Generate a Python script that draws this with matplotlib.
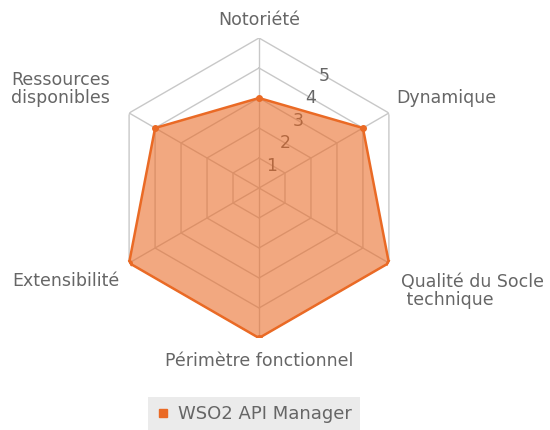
import numpy as np
import matplotlib
matplotlib.use("Agg")
import matplotlib.pyplot as plt
from matplotlib.lines import Line2D

categories = ["Notoriété", "Dynamique", "Qualité du Socle\n technique",
              "Périmètre fonctionnel", "Extensibilité", "Ressources\ndisponibles"]
values = [3, 4, 5, 5, 5, 4]
ticks = [1, 2, 3, 4, 5]
series_name = "WSO2 API Manager"

line_color = "#EA6A25"
grid_color = "#C8C8C8"
text_color = "#666666"
fs = 12.5

plt.rcParams["font.family"] = "DejaVu Sans"

fig = plt.figure(figsize=(5.5, 4.3), dpi=100)
# centre (259,188) px, radius 150 px
ax = fig.add_axes([109 / 550, (430 - 188 - 150) / 430, 300 / 550, 300 / 430], polar=True)
ax.set_theta_offset(np.pi / 2)
ax.set_theta_direction(-1)
ax.set_ylim(0, 5)
ax.grid(False)
ax.spines["polar"].set_visible(False)
ax.set_xticks([])
ax.set_yticks([])
ax.patch.set_alpha(0)

n = len(categories)
angles = np.linspace(0, 2 * np.pi, n, endpoint=False)
closed = np.append(angles, angles[0])

# polygon grid
for r in ticks:
    ax.plot(closed, [r] * (n + 1), color=grid_color, lw=1, zorder=1)
for a in angles:
    ax.plot([a, a], [0, ticks[-1]], color=grid_color, lw=1, zorder=1)

# radial tick labels on the edge midpoints
mid = np.radians(30)
for t in ticks:
    ax.text(mid, t * np.cos(mid), str(t), color=text_color, fontsize=fs,
            ha="center", va="center", zorder=2)

# data
vals = np.append(values, values[0])
ax.fill(closed, vals, color=line_color, alpha=0.58, lw=0, zorder=3)
ax.plot(closed, vals, color=line_color, lw=1.8, zorder=4)
ax.plot(angles, values, "o", color=line_color, ms=4, zorder=5)

# category labels
offsets = [(0, 18, "center", "center"),
           (7, 15, "left", "center"),
           (12, -28, "left", "center"),
           (0, -23, "center", "center"),
           (-10, -18, "right", "center"),
           (-19, 24, "right", "center")]
for a, lab, (dx, dy, ha, va) in zip(angles, categories, offsets):
    ax.annotate(lab, xy=(a, ticks[-1]), xytext=(dx, dy), textcoords="offset pixels",
                ha=ha, va=va, color=text_color, fontsize=fs, linespacing=1.0,
                multialignment="left" if ha == "left" else "center")

handle = Line2D([], [], marker="s", color=line_color, ls="none", ms=6)
leg = fig.legend([handle], [series_name], loc="center",
                 bbox_to_anchor=(254 / 550, 1 - 414 / 430), frameon=True,
                 fancybox=False, fontsize=13, handletextpad=0.4,
                 borderpad=0.45, handlelength=0.8)
leg.get_frame().set_facecolor("#E6E6E6")
leg.get_frame().set_edgecolor("none")
for t in leg.get_texts():
    t.set_color(text_color)

fig.savefig("out.png", dpi=100)
